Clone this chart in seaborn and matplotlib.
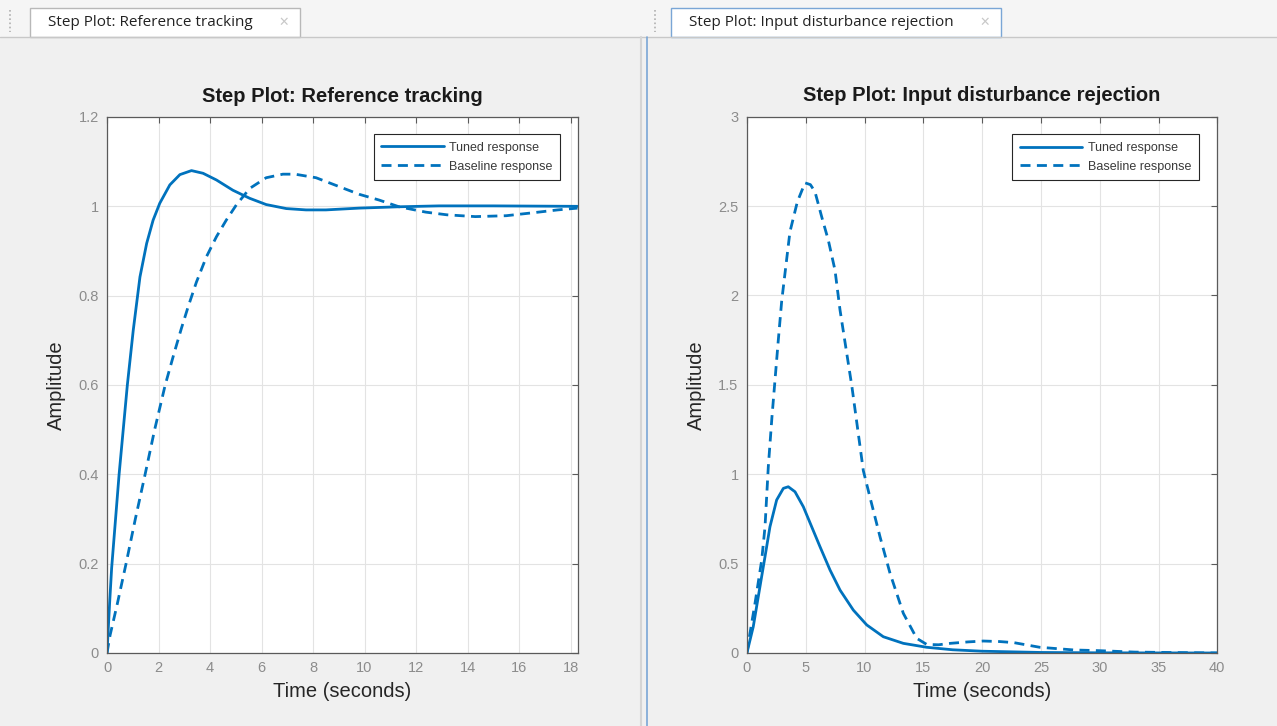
import matplotlib
matplotlib.use("Agg")
import matplotlib.pyplot as plt
from matplotlib.patches import Rectangle
from matplotlib.lines import Line2D
from matplotlib.ticker import FuncFormatter
import numpy as np
import pandas as pd
import seaborn as sns

SERIES = ["Tuned response", "Baseline response"]

ref_tuned_t = [0, 0.1, 0.18, 0.47, 0.79, 1.02, 1.28, 1.54, 1.79, 2.05, 2.44, 2.83, 3.28, 3.73,
               4.25, 4.89, 5.54, 6.18, 6.96, 7.73, 8.5, 9.79, 11.34, 12.89, 15.0, 18.27]
ref_tuned_y = [0, 0.11, 0.19, 0.4, 0.6, 0.723, 0.842, 0.917, 0.969, 1.007, 1.048, 1.071, 1.080, 1.074,
               1.059, 1.036, 1.018, 1.004, 0.995, 0.992, 0.992, 0.996, 0.999, 1.001, 1.001, 1.0]

ref_base_t = [0, 0.12, 0.4, 0.74, 1.1, 1.48, 1.85, 2.26, 2.6, 2.89, 3.15, 3.47, 3.86, 4.25, 4.63,
              5.02, 5.54, 6.18, 6.83, 7.3, 8.12, 9.02, 9.79, 10.57, 11.34, 12.38, 13.2, 14.3,
              15.5, 16.6, 17.5, 18.27]
ref_base_y = [0, 0.04, 0.11, 0.2, 0.30, 0.4, 0.5, 0.6, 0.67, 0.727, 0.775, 0.83, 0.887, 0.932, 0.969,
              1.003, 1.040, 1.064, 1.072, 1.072, 1.064, 1.044, 1.027, 1.014, 0.999, 0.987, 0.981, 0.977,
              0.979, 0.986, 0.992, 0.996]

dist_tuned_t = [0, 0.54, 1.11, 1.54, 1.96, 2.53, 3.10, 3.52, 4.09, 4.80, 5.51, 6.22, 7.07, 7.92,
                9.05, 10.19, 11.6, 13.3, 15.29, 17.5, 20, 25, 30, 40]
dist_tuned_y = [0, 0.147, 0.371, 0.539, 0.706, 0.856, 0.921, 0.930, 0.902, 0.818, 0.706, 0.594, 0.464,
                0.352, 0.240, 0.157, 0.091, 0.054, 0.032, 0.018, 0.01, 0.003, 0.001, 0]

dist_base_t = [0, 0.26, 0.69, 1.26, 1.54, 1.82, 2.13, 2.67, 2.96, 3.66, 4.29, 4.94, 5.4, 5.79, 6.36,
               6.92, 7.49, 7.92, 8.93, 9.9, 10.47, 11.32, 12.17, 13.3, 14.44, 15.29, 16.3, 17.3,
               18.8, 20.1, 21.5, 22.7, 24.9, 27.8, 30, 33, 40]
dist_base_y = [0, 0.11, 0.278, 0.52, 0.706, 1.042, 1.32, 1.75, 1.97, 2.356, 2.524, 2.63, 2.62, 2.58,
               2.44, 2.31, 2.142, 1.918, 1.49, 1.02, 0.87, 0.65, 0.446, 0.222, 0.082, 0.048, 0.046,
               0.054, 0.062, 0.067, 0.064, 0.058, 0.032, 0.017, 0.013, 0.005, 0]

W, H = 1277, 726
LINE_COLOR = "#0072BD"
BG = "#f0f0f0"
DASH = (0, (3.6, 2.3))

sns.set_theme(style="whitegrid")
plt.rcParams["font.family"] = ["Liberation Sans", "DejaVu Sans"]


def px(x, y):
    return x / W, 1 - y / H


def draw_panel(ax, tuned, base, title, xlim, ylim, yticks, xticks, anchor):
    sns.lineplot(x=tuned[0], y=tuned[1], ax=ax, color=LINE_COLOR, linewidth=2.0,
                 label=SERIES[0], estimator=None, sort=False)
    sns.lineplot(x=base[0], y=base[1], ax=ax, color=LINE_COLOR, linewidth=2.0,
                 linestyle=DASH, label=SERIES[1], estimator=None, sort=False)
    ax.set_xlim(*xlim)
    ax.set_ylim(*ylim)
    ax.set_xticks(xticks)
    ax.set_yticks(yticks)
    fmt = FuncFormatter(lambda v, _: f"{v:g}")
    ax.xaxis.set_major_formatter(fmt)
    ax.yaxis.set_major_formatter(fmt)
    ax.set_facecolor("white")
    ax.grid(True, color="#e3e3e3", linewidth=0.8)
    for s in ax.spines.values():
        s.set_color("#5a5a5a")
        s.set_linewidth(0.9)
        s.set_visible(True)
    ax.tick_params(direction="in", length=4, width=0.8, color="#5a5a5a",
                   top=True, right=True, labelsize=10.5, labelcolor="#8c8c8c", pad=6)
    ax.set_title(title, fontsize=14.5, fontweight="bold", color="#1a1a1a", pad=11)
    ax.set_xlabel("Time (seconds)", fontsize=14.5, color="#262626", labelpad=5)
    ax.set_ylabel("Amplitude", fontsize=14.5, color="#262626", labelpad=9)
    handles = [Line2D([], [], color=LINE_COLOR, lw=2.0),
               Line2D([], [], color=LINE_COLOR, lw=2.0, linestyle=DASH)]
    leg = ax.legend(handles, SERIES, loc="upper right", fontsize=9, frameon=True,
                    fancybox=False, edgecolor="#262626", framealpha=1,
                    handlelength=5.0, handletextpad=0.45, borderpad=0.6, labelspacing=0.55,
                    borderaxespad=0, bbox_to_anchor=anchor)
    leg.get_frame().set_linewidth(0.8)
    for t in leg.get_texts():
        t.set_color("#3a3a3a")


fig = plt.figure(figsize=(W / 100, H / 100), dpi=100)
fig.patch.set_facecolor(BG)

# window chrome: tab strip, tabs, divider
fig.patches.append(Rectangle(px(0, 37), 1, 37 / H, transform=fig.transFigure,
                             facecolor="#f5f5f5", edgecolor="none", zorder=0))
fig.add_artist(Line2D([0, 1], [1 - 37 / H] * 2, color="#c8c8c8", lw=1))
for x0, x1, label, edge in [(30, 300, "Step Plot: Reference tracking", "#b8b8b8"),
                            (671, 1001, "Step Plot: Input disturbance rejection", "#7aa6d6")]:
    fig.patches.append(Rectangle(px(x0, 37), (x1 - x0) / W, 29 / H, transform=fig.transFigure,
                                 facecolor="white", edgecolor=edge, lw=1, zorder=1))
    fig.text(*px(x0 + 18, 22), label, fontsize=11, color="#222222", va="center", ha="left",
             family=["Open Sans", "DejaVu Sans"], zorder=2)
    fig.text(*px(x1 - 16, 22), "✕", fontsize=9, color="#c8c8c8", va="center", ha="center",
             family=["DejaVu Sans"], zorder=2)
for gx in (10, 655):
    fig.add_artist(Line2D([gx / W] * 2, [1 - 10 / H, 1 - 32 / H], color="#b0b0b0",
                          lw=1.2, linestyle=(0, (1, 1.5))))
fig.add_artist(Line2D([641 / W] * 2, [0, 1 - 37 / H], color="#d5d5d5", lw=1.5))
fig.add_artist(Line2D([646.5 / W] * 2, [0, 1 - 37 / H], color="#7aa6d6", lw=1.2))

ax1 = fig.add_axes([107 / W, 73 / H, 470.5 / W, 536 / H])
ax2 = fig.add_axes([746.9 / W, 73 / H, 470.4 / W, 536.3 / H])

draw_panel(ax1, (ref_tuned_t, ref_tuned_y), (ref_base_t, ref_base_y),
           "Step Plot: Reference tracking", (0, 18.27), (0, 1.2),
           np.arange(0, 1.21, 0.2), np.arange(0, 18.1, 2), (0.963, 0.968))
draw_panel(ax2, (dist_tuned_t, dist_tuned_y), (dist_base_t, dist_base_y),
           "Step Plot: Input disturbance rejection", (0, 40), (0, 3),
           np.arange(0, 3.01, 0.5), np.arange(0, 40.1, 5), (0.961, 0.967))

fig.savefig("out.png", dpi=100, facecolor=fig.get_facecolor())
